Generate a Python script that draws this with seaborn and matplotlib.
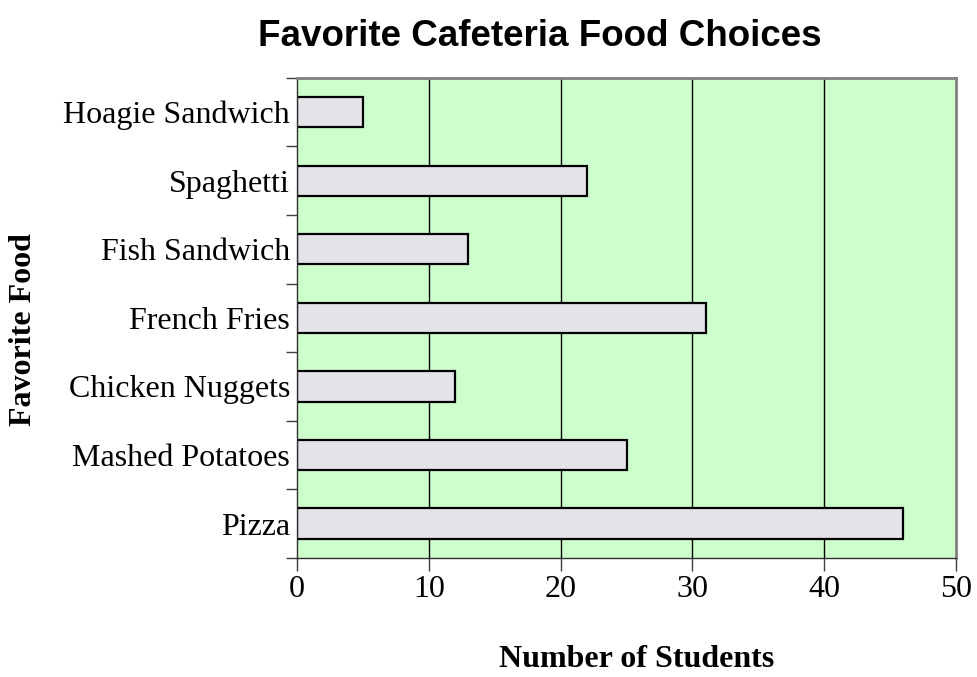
import matplotlib
matplotlib.use('Agg')
import matplotlib.pyplot as plt
import seaborn as sns
import pandas as pd
from matplotlib.ticker import FixedLocator

# data (top to bottom)
foods = ['Hoagie Sandwich', 'Spaghetti', 'Fish Sandwich', 'French Fries',
         'Chicken Nuggets', 'Mashed Potatoes', 'Pizza']
students = [5, 22, 13, 31, 12, 25, 46]
x_ticks = [0, 10, 20, 30, 40, 50]

df = pd.DataFrame({'food': foods, 'students': students})

sns.set_style('white')
serif = ['Liberation Serif', 'DejaVu Serif']

fig = plt.figure(figsize=(9.77, 6.77), dpi=100)
ax = fig.add_axes([0.304, 0.176, 0.6745, 0.709])
ax.set_facecolor('#ccffcc')

sns.barplot(data=df, x='students', y='food', order=foods, orient='h',
            color='#e4e4e8', edgecolor='black', linewidth=1.6,
            width=0.44, saturation=1, ax=ax)

# vertical gridlines
ax.set_xlim(0, 50)
ax.set_xticks(x_ticks)
for v in x_ticks[1:-1]:
    ax.axvline(v, color='black', lw=1, zorder=0.5)

ax.set_ylim(len(foods) - 0.5, -0.5)
ax.yaxis.set_minor_locator(FixedLocator([i - 0.5 for i in range(len(foods) + 1)]))
ax.tick_params(axis='y', which='major', length=0, pad=5)
ax.tick_params(axis='y', which='minor', length=8, width=1, color='#404040', left=True)
ax.tick_params(axis='x', which='major', length=9, width=1, color='#404040', bottom=True, pad=3)

for lab in ax.get_yticklabels() + ax.get_xticklabels():
    lab.set_family(serif)
    lab.set_fontsize(23)
    lab.set_color('black')

ax.set_xlabel('Number of Students', family=serif, fontsize=23, fontweight='bold', color='black')
ax.set_ylabel('Favorite Food', family=serif, fontsize=23, fontweight='bold', color='black')
ax.xaxis.set_label_coords(0.516, -0.2125)
ax.yaxis.set_label_coords(-0.415, 0.475)
ax.xaxis.label.set_va('center')
ax.yaxis.label.set_va('center')

for side in ['left', 'bottom']:
    ax.spines[side].set_color('#303030')
    ax.spines[side].set_linewidth(1)
for side in ['top', 'right']:
    ax.spines[side].set_color('#808080')
    ax.spines[side].set_linewidth(2)

fig.text(0.553, 0.946, 'Favorite Cafeteria Food Choices', ha='center', va='center',
         fontsize=26.5, fontweight='bold', family=['Liberation Sans', 'DejaVu Sans'], color='black')

fig.savefig('out.png', dpi=100, facecolor='white')
